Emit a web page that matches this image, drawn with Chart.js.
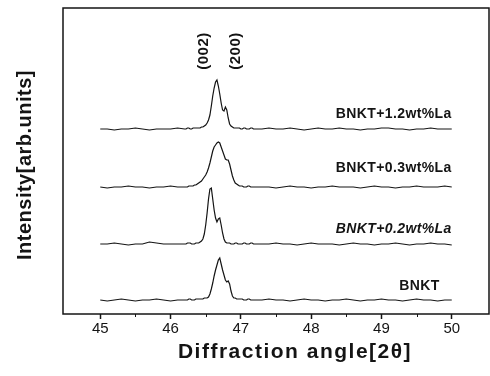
<!DOCTYPE html>
<html>
<head>
<meta charset="utf-8">
<script src="https://cdn.jsdelivr.net/npm/chart.js@4.4.1/dist/chart.umd.min.js"></script>
<style>
    html, body { margin: 0; padding: 0; background: #fff; }
    #wrap { width: 490px; height: 376px; }
</style>
</head>
<body>
<div id="wrap"><canvas id="xrd" width="490" height="376"></canvas></div>
<script>
// 2theta, coarse at the ends, finer around the (002)/(200) doublet
const angle = [
    45.0, 45.1, 45.2, 45.3, 45.4, 45.5, 45.6, 45.7, 45.8, 45.9, 46.0, 46.1,
    46.20, 46.22, 46.24, 46.26, 46.28, 46.30, 46.32, 46.34, 46.36, 46.38,
    46.40, 46.42, 46.44, 46.46, 46.48, 46.50, 46.52, 46.54, 46.56, 46.58,
    46.60, 46.62, 46.64, 46.66, 46.68, 46.70, 46.72, 46.74, 46.76, 46.78,
    46.80, 46.82, 46.84, 46.86, 46.88, 46.90, 46.92, 46.94, 46.96, 46.98,
    47.00, 47.02, 47.04, 47.06, 47.08, 47.10, 47.12, 47.14, 47.16, 47.18, 47.20,
    47.3, 47.4, 47.5, 47.6, 47.7, 47.8, 47.9, 48.0, 48.1, 48.2, 48.3, 48.4, 48.5, 48.6,
    48.7, 48.8, 48.9, 49.0, 49.1, 49.2, 49.3, 49.4, 49.5, 49.6, 49.7, 49.8, 49.9, 50.0
];

const intBNKT = [
    1, 0, 1, 2, 1, 0, 1, 1, 2, 1, 0, 1,
    1, 1, 1, 2, 2, 1, 1, 1, 2, 2, 2, 2, 2, 2, 3,
    3, 3, 4, 7, 12, 18, 25, 31, 36, 41, 43, 37, 31, 26, 21, 19, 20, 17, 10, 5, 3, 3, 2, 2, 2,
    2, 2, 1, 1, 1, 2, 2, 1, 1, 1, 1,
    1, 2, 1, 1, 0, 1, 2, 1, 1, 0, 1, 1, 2, 1, 0, 1, 1, 2, 1, 1, 0, 1, 2, 1, 1, 0, 1, 1
];
const intLa02 = [
    1, 1, 2, 1, 0, 1, 1, 3, 2, 1, 1, 1,
    1, 1, 2, 2, 2, 1, 1, 1, 2, 2, 2, 3, 4, 6, 11,
    20, 32, 46, 56, 57, 46, 35, 27, 23, 26, 27, 20, 12, 6, 3, 2, 2, 2, 1, 1, 1, 2, 2, 1, 1,
    1, 1, 2, 2, 1, 1, 1, 2, 2, 1, 1,
    1, 1, 2, 1, 1, 0, 1, 2, 1, 1, 1, 0, 1, 2, 1, 1, 0, 1, 1, 2, 1, 0, 1, 1, 2, 1, 1, 0
];
const intLa03 = [
    1, 0, 1, 1, 2, 1, 1, 0, 1, 1, 2, 1,
    1, 1, 1, 2, 2, 2, 2, 3, 3, 4, 5, 6, 7, 9, 11,
    13, 16, 20, 25, 31, 37, 41, 43, 45, 46, 45, 41, 37, 33, 29, 28, 28, 24, 18, 12, 8, 5, 4, 3, 2,
    2, 2, 1, 1, 1, 2, 2, 1, 1, 1, 1,
    1, 1, 0, 1, 2, 1, 1, 0, 1, 1, 2, 1, 1, 1, 0, 1, 2, 1, 1, 0, 1, 1, 2, 1, 1, 1, 2, 1
];
const intLa12 = [
    1, 1, 0, 1, 1, 2, 1, 0, 1, 1, 1, 2,
    1, 1, 2, 2, 1, 1, 2, 2, 2, 2, 2, 2, 3, 3, 4,
    5, 7, 10, 15, 24, 34, 42, 48, 50, 44, 36, 27, 20, 19, 23, 20, 12, 6, 4, 3, 2, 2, 2, 2, 2,
    1, 1, 2, 2, 1, 1, 1, 2, 2, 1, 1,
    1, 2, 1, 1, 2, 1, 0, 1, 2, 1, 1, 2, 1, 1, 0, 1, 1, 2, 2, 1, 1, 0, 1, 1, 2, 1, 1, 1
];

const sampleNames = ['BNKT', 'BNKT+0.2wt%La', 'BNKT+0.3wt%La', 'BNKT+1.2wt%La'];
const sampleSeries = [intBNKT, intLa02, intLa03, intLa12];
const stackOffsets = [13, 69, 126, 184];   // vertical shift of each pattern
const xTicks = [45, 46, 47, 48, 49, 50];
const xMinorTicks = [45.5, 46.5, 47.5, 48.5, 49.5];
const peakNames = ['(002)', '(200)'];

// where the texts sit, in data units
const sampleLabelAt = [[49.83, 28], [50.0, 85], [50.0, 146], [50.0, 200]];
const peakLabelAt = [[46.47, 263], [46.93, 263]];

const FONT = '"Liberation Sans", Arial, sans-serif';
const INK = '#141414';

const overlay = {
    id: 'overlay',
    afterDraw(chart) {
        const { ctx, chartArea: a, scales: { x, y } } = chart;
        ctx.save();

        // frame
        ctx.strokeStyle = INK;
        ctx.lineWidth = 1.5;
        ctx.strokeRect(a.left, a.top, a.right - a.left, a.bottom - a.top);

        // minor ticks
        ctx.lineWidth = 1;
        ctx.beginPath();
        xMinorTicks.forEach(v => {
            const px = Math.round(x.getPixelForValue(v)) + 0.5;
            ctx.moveTo(px, a.bottom);
            ctx.lineTo(px, a.bottom + 3);
        });
        ctx.stroke();

        ctx.fillStyle = INK;

        // sample names
        ctx.textAlign = 'right';
        ctx.textBaseline = 'middle';
        ctx.letterSpacing = '0.4px';
        sampleNames.forEach((name, i) => {
            const [vx, vy] = sampleLabelAt[i];
            ctx.font = (i === 1 ? 'italic ' : '') + 'bold 14px ' + FONT;
            ctx.fillText(name, x.getPixelForValue(vx), y.getPixelForValue(vy));
        });

        // peak indices, rotated
        ctx.font = 'bold 15px ' + FONT;
        ctx.letterSpacing = '0.5px';
        ctx.textAlign = 'center';
        peakNames.forEach((name, i) => {
            const [vx, vy] = peakLabelAt[i];
            ctx.save();
            ctx.translate(x.getPixelForValue(vx), y.getPixelForValue(vy));
            ctx.rotate(-Math.PI / 2);
            ctx.fillText(name, 0, 0);
            ctx.restore();
        });

        // axis titles
        ctx.font = 'bold 21px ' + FONT;
        ctx.letterSpacing = '1.5px';
        ctx.fillText('Diffraction angle[2θ]', 295, 352);
        ctx.font = 'bold 20px ' + FONT;
        ctx.letterSpacing = '0.5px';
        ctx.save();
        ctx.translate(25, 165);
        ctx.rotate(-Math.PI / 2);
        ctx.fillText('Intensity[arb.units]', 0, 0);
        ctx.restore();

        ctx.restore();
    }
};

const datasets = sampleSeries.map((vals, i) => ({
    label: sampleNames[i],
    data: angle.map((a, k) => ({ x: a, y: vals[k] + stackOffsets[i] })),
    borderColor: INK,
    borderWidth: 1.2,
    pointRadius: 0,
    tension: 0,
    fill: false
}));

new Chart(document.getElementById('xrd'), {
    type: 'line',
    data: { datasets },
    options: {
        responsive: false,
        animation: false,
        devicePixelRatio: 1,
        parsing: false,
        layout: { padding: { top: 8, right: 1, left: 0, bottom: 0 } },
        plugins: {
            legend: { display: false },
            tooltip: { enabled: false }
        },
        scales: {
            x: {
                type: 'linear',
                min: 44.47,
                max: 50.53,
                afterFit: (s) => { s.height = 62; },
                afterBuildTicks: (s) => { s.ticks = xTicks.map(v => ({ value: v })); },
                ticks: {
                    color: INK,
                    padding: 1,
                    maxRotation: 0,
                    autoSkip: false,
                    font: { family: FONT, size: 15 },
                    callback: (v) => String(v)
                },
                grid: {
                    drawOnChartArea: false,
                    tickLength: 5,
                    tickWidth: 1.5,
                    tickColor: INK
                },
                border: { display: false }
            },
            y: {
                min: 0,
                max: 306,
                afterFit: (s) => { s.width = 63; },
                ticks: { display: false },
                grid: { display: false, drawTicks: false },
                border: { display: false }
            }
        }
    },
    plugins: [overlay]
});
</script>
</body>
</html>
